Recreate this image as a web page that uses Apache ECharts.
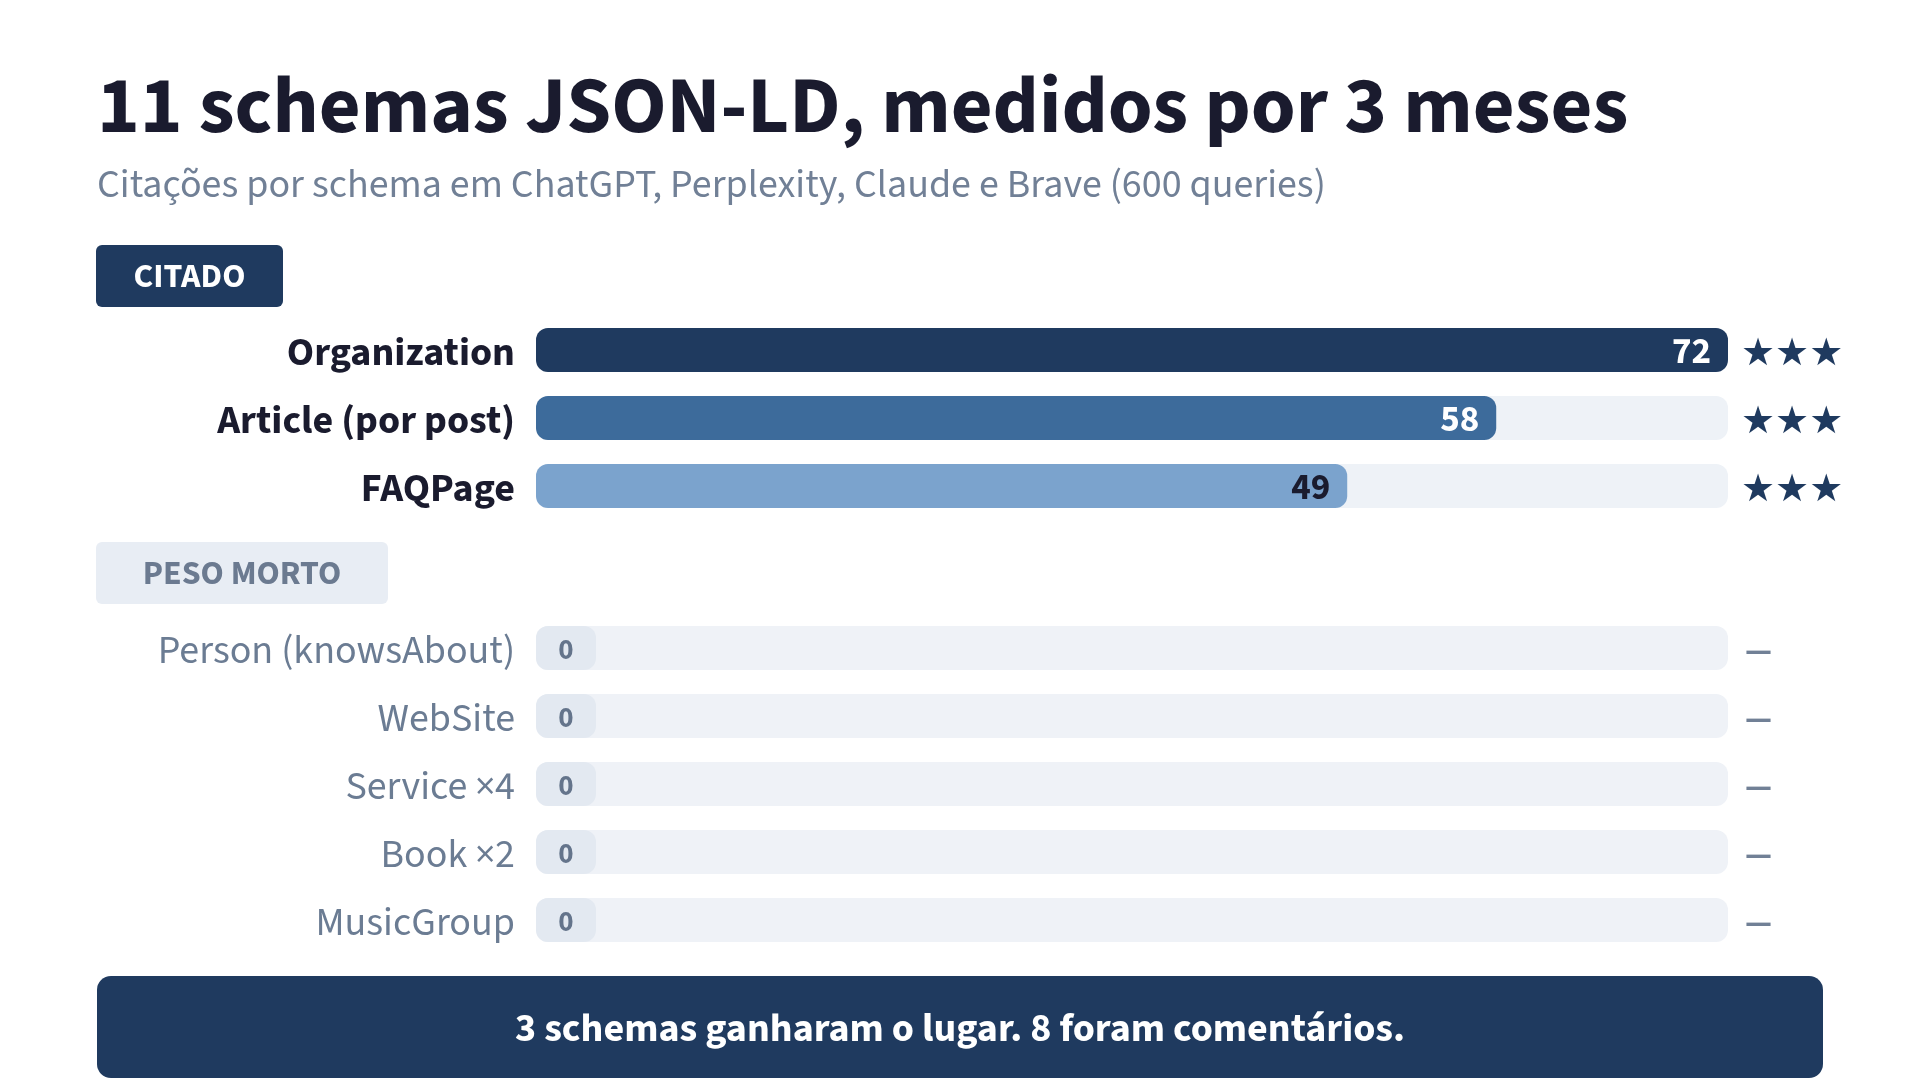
<!DOCTYPE html>
<html>
<head>
<meta charset="utf-8">
<title>11 schemas JSON-LD</title>
<script src="https://cdn.jsdelivr.net/npm/echarts@6/dist/echarts.min.js"></script>
<style>
  html, body { margin: 0; padding: 0; background: #ffffff; }
  #main { width: 1920px; height: 1080px; }
</style>
</head>
<body>
<div id="main"></div>
<script>
// dados
var citedNames = ['Organization', 'Article (por post)', 'FAQPage']
var citedValues = [72, 58, 49]
var citedStars = ['★★★', '★★★', '★★★']
var deadNames = ['Person (knowsAbout)', 'WebSite', 'Service ×4', 'Book ×2', 'MusicGroup']
var deadValues = [0, 0, 0, 0, 0]
var deadMarks = ['—', '—', '—', '—', '—']
var maxValue = 72

var FONT = '"Source Sans 3", "Source Sans Pro", Lato, sans-serif'
var NAVY = '#1f3a5f'
var barColors = ['#1f3a5f', '#3d6b9b', '#7ba3cd']
var valueColors = ['#ffffff', '#ffffff', '#1a1b2e']

var myChart = echarts.init(document.getElementById('main'))

var citedData = []
for (var i = 0; i < citedValues.length; i++) {
  citedData.push({
    value: citedValues[i],
    itemStyle: { color: barColors[i] },
    label: { color: valueColors[i] }
  })
}

// texto um pouco abaixo do centro da barra, como no original
var labelBase = { verticalAlign: 'top', lineHeight: 12 }

var options = {
  backgroundColor: '#ffffff',
  animation: false,
  grid: [
    { left: 536, width: 1192, top: 316, height: 204 },
    { left: 536, width: 1192, top: 614, height: 340 }
  ],
  xAxis: [
    { gridIndex: 0, type: 'value', min: 0, max: maxValue, show: false },
    { gridIndex: 1, type: 'value', min: 0, max: maxValue, show: false }
  ],
  yAxis: [
    {
      gridIndex: 0, type: 'category', inverse: true, data: citedNames,
      axisLine: { show: false }, axisTick: { show: false },
      axisLabel: Object.assign({ margin: 21, interval: 0, color: '#1a1b2e', fontSize: 40, fontWeight: 'bold', fontFamily: FONT }, labelBase)
    },
    {
      gridIndex: 0, type: 'category', inverse: true, position: 'right', data: citedStars,
      axisLine: { show: false }, axisTick: { show: false },
      axisLabel: Object.assign({ margin: 13, interval: 0, color: NAVY, fontSize: 38, align: 'left', fontFamily: 'DejaVu Sans' }, labelBase, { lineHeight: 10 })
    },
    {
      gridIndex: 1, type: 'category', inverse: true, data: deadNames,
      axisLine: { show: false }, axisTick: { show: false },
      axisLabel: Object.assign({ margin: 21, interval: 0, color: '#6b7c93', fontSize: 40, fontFamily: FONT }, labelBase)
    },
    {
      gridIndex: 1, type: 'category', inverse: true, position: 'right', data: deadMarks,
      axisLine: { show: false }, axisTick: { show: false },
      axisLabel: Object.assign({ margin: 17, interval: 0, color: '#718096', fontSize: 27, fontWeight: 'bold', align: 'left', fontFamily: 'DejaVu Sans' }, labelBase, { lineHeight: 10 })
    }
  ],
  series: [
    {
      type: 'bar', xAxisIndex: 0, yAxisIndex: 0,
      data: citedData,
      barWidth: 44,
      itemStyle: { borderRadius: 12 },
      showBackground: true,
      backgroundStyle: { color: '#eef2f7', borderRadius: 12 },
      label: Object.assign({
        show: true, position: 'insideRight', distance: 17,
        fontSize: 37, fontWeight: 'bold', fontFamily: FONT
      }, labelBase, { lineHeight: 10 })
    },
    {
      type: 'bar', xAxisIndex: 1, yAxisIndex: 2,
      data: deadValues,
      barWidth: 44,
      barMinHeight: 60,
      itemStyle: { color: '#e3e9f1', borderRadius: 12 },
      showBackground: true,
      backgroundStyle: { color: '#eff2f7', borderRadius: 12 },
      label: Object.assign({
        show: true, position: 'inside', color: '#64748b',
        fontSize: 29, fontWeight: 'bold', fontFamily: FONT
      }, labelBase, { lineHeight: 10 })
    }
  ],
  graphic: [
    {
      type: 'text', left: 97, top: 74,
      style: { text: '11 schemas JSON-LD, medidos por 3 meses', fill: '#1a1b2e', fontSize: 81, fontWeight: 'bold', fontFamily: FONT }
    },
    {
      type: 'text', left: 97, top: 168,
      style: { text: 'Citações por schema em ChatGPT, Perplexity, Claude e Brave (600 queries)', fill: '#718096', fontSize: 40, fontFamily: FONT }
    },
    {
      type: 'group', left: 96, top: 245,
      children: [
        { type: 'rect', shape: { x: 0, y: 0, width: 187, height: 62, r: 6 }, style: { fill: NAVY } },
        { type: 'text', x: 93.5, y: 35, style: { text: 'CITADO', fill: '#ffffff', fontSize: 34, fontWeight: 'bold', fontFamily: FONT, align: 'center', verticalAlign: 'middle' } }
      ]
    },
    {
      type: 'group', left: 96, top: 542,
      children: [
        { type: 'rect', shape: { x: 0, y: 0, width: 292, height: 62, r: 6 }, style: { fill: '#e8edf4' } },
        { type: 'text', x: 146, y: 35, style: { text: 'PESO MORTO', fill: '#6b7a90', fontSize: 34, fontWeight: 'bold', fontFamily: FONT, align: 'center', verticalAlign: 'middle' } }
      ]
    },
    {
      type: 'group', left: 97, top: 976,
      children: [
        { type: 'rect', shape: { x: 0, y: 0, width: 1726, height: 102, r: 14 }, style: { fill: NAVY } },
        { type: 'text', x: 863, y: 56, style: { text: '3 schemas ganharam o lugar. 8 foram comentários.', fill: '#ffffff', fontSize: 40, fontWeight: 'bold', fontFamily: FONT, align: 'center', verticalAlign: 'middle' } }
      ]
    }
  ]
}

myChart.setOption(options)
</script>
</body>
</html>
